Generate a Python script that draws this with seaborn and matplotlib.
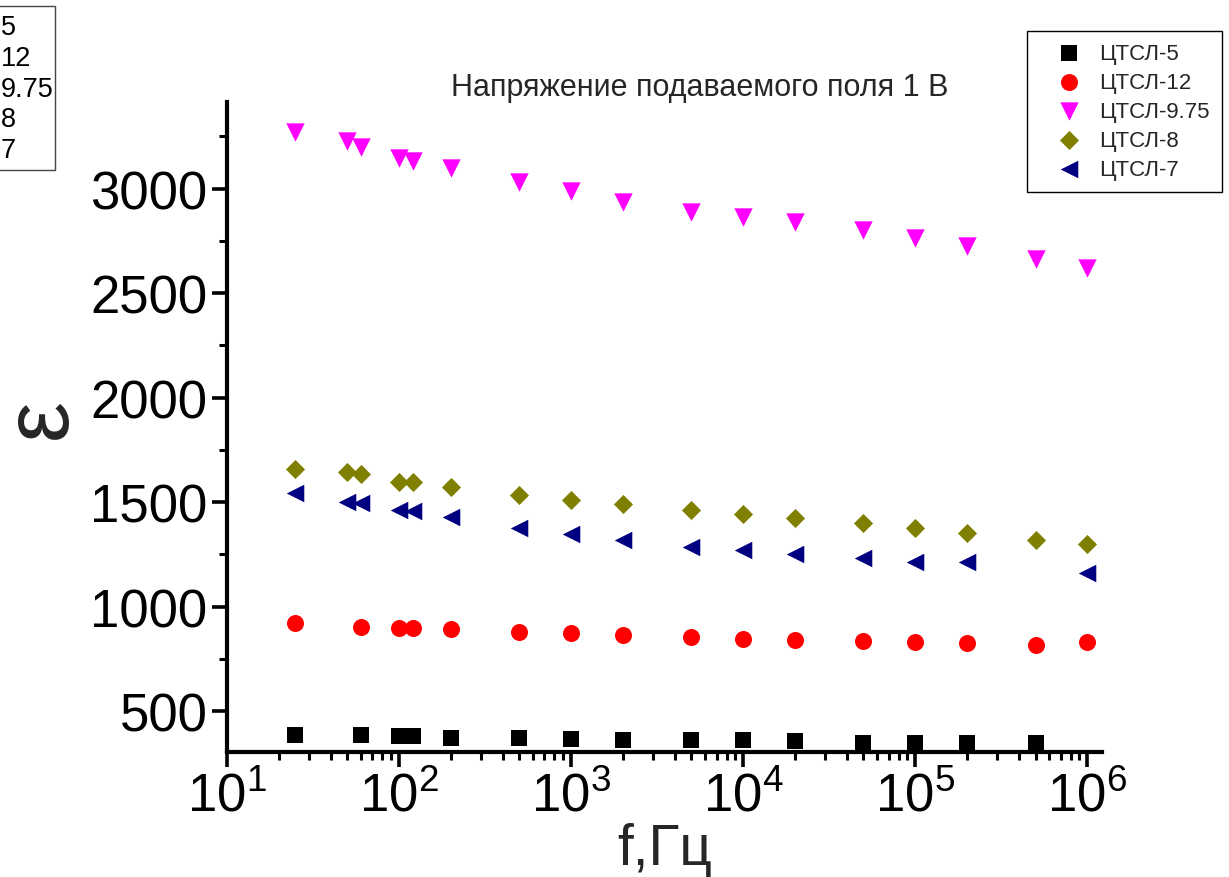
import matplotlib
matplotlib.use("Agg")
import matplotlib.pyplot as plt
import seaborn as sns
from matplotlib.ticker import LogLocator, MultipleLocator, NullFormatter
from matplotlib.patches import Rectangle

# ---------------- data ----------------
freq_5 = [25, 60, 100, 120, 200, 500, 1e3, 2e3, 5e3, 1e4, 2e4, 5e4, 1e5, 2e5, 5e5]
eps_5 = [388, 388, 382, 382, 374, 374, 367, 362, 362, 362, 356, 350, 350, 350, 350]

freq_12 = [25, 60, 100, 120, 200, 500, 1e3, 2e3, 5e3, 1e4, 2e4, 5e4, 1e5, 2e5, 5e5, 1e6]
eps_12 = [924, 905, 897, 897, 892, 879, 873, 864, 853, 848, 841, 836, 832, 825, 816, 832]

freq_975 = [25, 50, 60, 100, 120, 200, 500, 1e3, 2e3, 5e3, 1e4, 2e4, 5e4, 1e5, 2e5, 5e5, 1e6]
eps_975 = [3270, 3227, 3200, 3147, 3133, 3098, 3034, 2987, 2937, 2891, 2865, 2843, 2803,
           2766, 2726, 2666, 2623]

freq_8 = [25, 50, 60, 100, 120, 200, 500, 1e3, 2e3, 5e3, 1e4, 2e4, 5e4, 1e5, 2e5, 5e5, 1e6]
eps_8 = [1661, 1645, 1633, 1597, 1597, 1575, 1533, 1511, 1492, 1465, 1443, 1423, 1403,
         1379, 1355, 1318, 1302]

freq_7 = [25, 50, 60, 100, 120, 200, 500, 1e3, 2e3, 5e3, 1e4, 2e4, 5e4, 1e5, 2e5, 1e6]
eps_7 = [1546, 1501, 1495, 1463, 1457, 1427, 1379, 1347, 1320, 1288, 1270, 1251, 1232,
         1216, 1216, 1160]

series_labels = ["ЦТСЛ-5", "ЦТСЛ-12", "ЦТСЛ-9.75", "ЦТСЛ-8", "ЦТСЛ-7"]
box_labels = ["5", "12", "9.75", "8", "7"]
title_text = "Напряжение подаваемого поля 1 В"
x_label = "f,Гц"
y_label = "ε"

# ---------------- style ----------------
sns.set_theme(style="ticks")
plt.rcParams["font.family"] = ["Liberation Sans", "DejaVu Sans"]
plt.rcParams["mathtext.fontset"] = "custom"
plt.rcParams["mathtext.rm"] = "Liberation Sans"
plt.rcParams["mathtext.it"] = "Liberation Sans:italic"
plt.rcParams["mathtext.bf"] = "Liberation Sans:bold"
plt.rcParams["axes.unicode_minus"] = False

W, H = 1229, 878
fig = plt.figure(figsize=(W / 100, H / 100), dpi=100)
ax = fig.add_axes([227 / W, 1 - 753 / H, (1102 - 227) / W, (753 - 103) / H])

styles = [
    (freq_5, eps_5, "s", "#000000", 140),
    (freq_12, eps_12, "o", "#ff0000", 150),
    (freq_975, eps_975, "v", "#ff00ff", 175),
    (freq_8, eps_8, "D", "#808000", 95),
    (freq_7, eps_7, "<", "#000080", 160),
]
for (fx, fy, mk, col, sz), lab in zip(styles, series_labels):
    sns.scatterplot(x=fx, y=fy, marker=mk, color=col, s=sz, linewidth=0,
                    label=lab, ax=ax)

ax.set_xscale("log")
ax.set_xlim(10, 10 ** 6.085)
ax.set_ylim(305, 3415)

ax.xaxis.set_major_locator(LogLocator(base=10, numticks=20))
ax.xaxis.set_minor_locator(LogLocator(base=10, subs=range(2, 10), numticks=50))
ax.xaxis.set_minor_formatter(NullFormatter())
ax.yaxis.set_major_locator(MultipleLocator(500))
ax.yaxis.set_minor_locator(MultipleLocator(250))

sns.despine(ax=ax)
for sp in ("left", "bottom"):
    ax.spines[sp].set_linewidth(3.0)
    ax.spines[sp].set_color("black")

ax.tick_params(which="major", direction="out", length=11, width=2.6,
               labelsize=38, pad=3, colors="black")
ax.tick_params(which="minor", direction="out", length=6, width=2.2, colors="black")

ax.set_xlabel(x_label, fontsize=41, labelpad=0)
ax.set_ylabel(y_label, fontsize=66, rotation=90)
ax.yaxis.set_label_coords(-0.162, 0.515)

ax.set_title(title_text, fontsize=22, x=(700 - 227) / 875, pad=3)

leg = ax.legend(loc="upper right", bbox_to_anchor=(1222 / W, 1 - 32 / H),
                bbox_transform=fig.transFigure, frameon=True, fancybox=False,
                edgecolor="black", framealpha=1, fontsize=16, borderaxespad=0,
                labelspacing=0.36, handletextpad=0.0, handlelength=2.7,
                borderpad=0.55, scatterpoints=1)
leg.get_frame().set_linewidth(1.0)

# small annotation box at the top-left corner
fig.text(1 / W, 1 - 15 / H, "\n".join(box_labels), ha="left", va="top",
         fontsize=19.5, linespacing=1.24, color="black")
fig.add_artist(Rectangle((-0.01, 1 - 171 / H), 0.01 + 55 / W, (171 - 7) / H,
                         transform=fig.transFigure, fill=False,
                         edgecolor="#444444", linewidth=1))

fig.savefig("out.png", dpi=100)
